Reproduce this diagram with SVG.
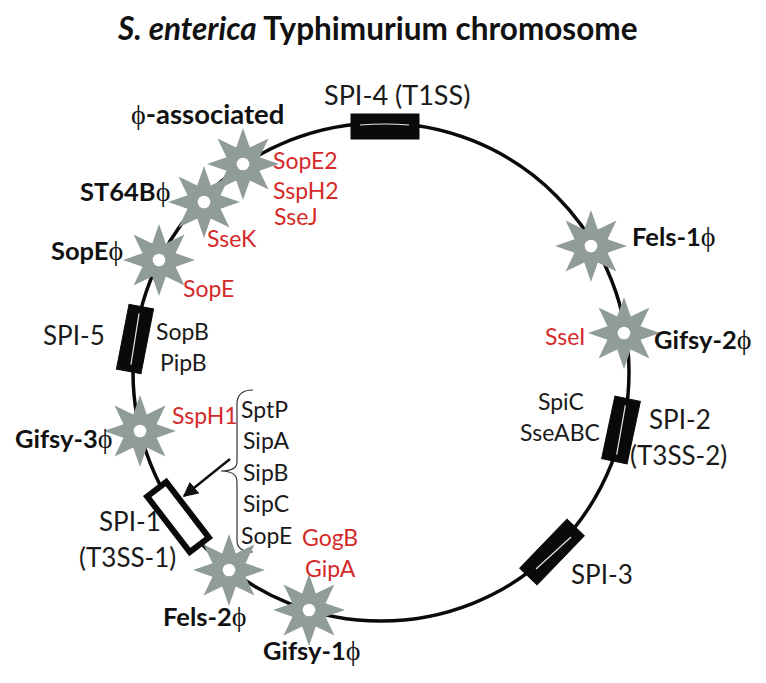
<svg xmlns="http://www.w3.org/2000/svg" width="766" height="683" viewBox="0 0 766 683">
<style>
text{font-family:Lato,"Open Sans","Liberation Sans",sans-serif;font-size:23px;fill:#1a1a1a}
.l{font-size:26px}
.b{font-weight:700;fill:#111;font-size:25.500px}
.r{fill:#d42a2a}
.t{font-size:31.500px;font-weight:700;fill:#111}
.p{font-family:"Liberation Serif","DejaVu Serif",serif;font-weight:400;font-size:28px}
.star{fill:#909c9a}
.hole{fill:#fff}
.box{fill:#0a0a0a;stroke:#0a0a0a}
.slit{stroke:#e4e4e4;stroke-width:1.200;fill:none}
</style>
<defs>
<polygon id="s" points="0,-36 6.800,-16.500 25.500,-25.500 16.500,-6.800 36,0 16.500,6.800 25.500,25.500 6.800,16.500 0,36 -6.800,16.500 -25.500,25.500 -16.500,6.800 -36,0 -16.500,-6.800 -25.500,-25.500 -6.800,-16.500"/>
<marker id="a" viewBox="0 0 10 10" refX="9" refY="5" markerWidth="6" markerHeight="6" orient="auto"><path d="M0,0L10,5L0,10z" fill="#111"/></marker>
</defs>
<rect width="766" height="683" fill="#fff"/>
<text class="t" x="118" y="40"><tspan font-style="italic">S. enterica</tspan> Typhimurium chromosome</text>
<g id="connectors">
<ellipse cx="381" cy="372" rx="248" ry="249" fill="none" stroke="#0a0a0a" stroke-width="3.500"/>
<path d="M253,390C243,390 237,394 237,404V462C237,468 232,471 221,471C232,471 237,475 237,482V540C237,548 243,552 253,552" fill="none" stroke="#333" stroke-width="1.200"/>
<line x1="230" y1="459" x2="184" y2="496" stroke="#111" stroke-width="2.500" marker-end="url(#a)"/>
</g>
<g id="spi-4"><rect class="box" x="351" y="114" width="68" height="25"/><path class="slit" d="M360,125Q385,123 409,125"/><text class="l" style="font-size:27px" x="324" y="105">SPI-4 (T1SS)</text></g>
<g id="spi-5"><rect class="box" x="122.500" y="306" width="25" height="66" transform="rotate(11 135 339)"/><path class="slit" d="M135,313V365" transform="rotate(9 135 339)"/><text class="l" x="43" y="345">SPI-5</text><text x="156" y="340">SopB</text><text x="160" y="371">PipB</text></g>
<g id="spi-1"><rect x="166" y="482" width="24" height="70" transform="rotate(-37.500 178 517)" fill="#fff" stroke="#0a0a0a" stroke-width="6"/><text class="l" x="99" y="531">SPI-1</text><text class="l" x="79" y="567">(T3SS-1)</text><text x="241" y="418">SptP</text><text x="243" y="449">SipA</text><text x="243" y="481">SipB</text><text x="243" y="512">SipC</text><text x="241" y="544">SopE</text></g>
<g id="spi-2"><rect class="box" x="608" y="398" width="26" height="64" transform="rotate(12 621 430)"/><path class="slit" d="M621,405V455" transform="rotate(10 621 430)"/><text x="538" y="410">SpiC</text><text x="520" y="441">SseABC</text><text class="l" x="649" y="429">SPI-2</text><text class="l" x="630" y="465">(T3SS-2)</text></g>
<g id="spi-3"><rect class="box" x="540" y="518" width="24" height="68" transform="rotate(44 552 552)"/><path class="slit" d="M571,537L536,569"/><text class="l" x="571" y="584">SPI-3</text></g>
<g id="phi-assoc"><use href="#s" class="star" x="243" y="164"/><circle class="hole" cx="243" cy="164" r="6.300"/><text class="b" style="font-size:27.500px" x="131" y="124"><tspan class="p">ϕ</tspan>-associated</text><text class="r" x="273" y="169">SopE2</text><text class="r" x="273" y="199">SspH2</text><text class="r" x="274" y="225">SseJ</text></g>
<g id="st64b"><use href="#s" class="star" x="204" y="202"/><circle class="hole" cx="204" cy="202" r="6.300"/><text class="b" x="80" y="201">ST64B<tspan class="p">ϕ</tspan></text><text class="r" x="207" y="247">SseK</text></g>
<g id="sope"><use href="#s" class="star" x="159" y="260"/><circle class="hole" cx="159" cy="260" r="6.300"/><text class="b" x="51" y="260">SopE<tspan class="p">ϕ</tspan></text><text class="r" x="183" y="297">SopE</text></g>
<g id="gifsy-3"><use href="#s" class="star" x="140" y="431"/><circle class="hole" cx="140" cy="431" r="6.300"/><text class="b" x="15" y="448">Gifsy-3<tspan class="p">ϕ</tspan></text><text class="r" x="172" y="424">SspH1</text></g>
<g id="fels-2"><use href="#s" class="star" x="229" y="570"/><circle class="hole" cx="229" cy="570" r="6.300"/><text class="b" x="163" y="626">Fels-2<tspan class="p">ϕ</tspan></text></g>
<g id="gifsy-1"><use href="#s" class="star" x="309" y="610"/><circle class="hole" cx="309" cy="610" r="6.300"/><text class="b" x="263" y="660">Gifsy-1<tspan class="p">ϕ</tspan></text><text class="r" x="302" y="546">GogB</text><text class="r" x="305" y="577">GipA</text></g>
<g id="fels-1"><use href="#s" class="star" x="591" y="246"/><circle class="hole" cx="591" cy="246" r="6.300"/><text class="b" x="632" y="246">Fels-1<tspan class="p">ϕ</tspan></text></g>
<g id="gifsy-2"><use href="#s" class="star" x="624" y="333"/><circle class="hole" cx="624" cy="333" r="6.300"/><text class="b" x="654" y="349">Gifsy-2<tspan class="p">ϕ</tspan></text><text class="r" x="545" y="345">SseI</text></g>
</svg>
